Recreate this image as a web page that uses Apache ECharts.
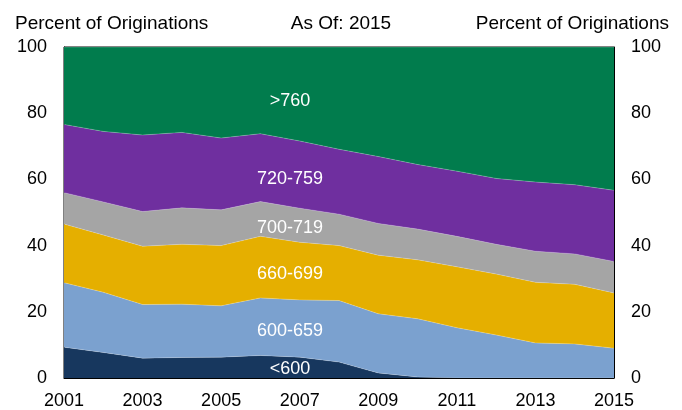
<!DOCTYPE html>
<html>
<head>
<meta charset="utf-8">
<script src="https://cdn.jsdelivr.net/npm/echarts@6/dist/echarts.min.js"></script>
<style>
  html, body { margin: 0; padding: 0; background: #fff; }
  #chart { width: 682px; height: 410px; }
</style>
</head>
<body>
<div id="chart"></div>
<script>
// Share of mortgage originations by credit score band, percent
const years = ['2001','2002','2003','2004','2005','2006','2007','2008','2009','2010','2011','2012','2013','2014','2015'];
const below600 = [9.3, 7.7, 6.0, 6.2, 6.3, 6.8, 6.3, 4.8, 1.5, 0.3, 0, 0, 0, 0, 0];
const s600_659 = [19.5, 18.2, 16.2, 16.1, 15.5, 17.4, 17.3, 18.6, 17.9, 17.6, 15.2, 13.0, 10.6, 10.3, 9.0];
const s660_699 = [17.7, 17.3, 17.6, 18.1, 18.2, 18.6, 17.4, 16.6, 17.7, 17.8, 18.4, 18.4, 18.3, 18.0, 16.7];
const s700_719 = [9.5, 10.0, 10.5, 11.0, 10.8, 10.5, 10.3, 9.5, 9.6, 9.3, 9.2, 9.0, 9.4, 9.2, 9.5];
const s720_759 = [20.6, 21.3, 23.1, 22.8, 21.7, 20.5, 20.3, 19.6, 20.2, 19.5, 19.7, 19.9, 20.9, 20.9, 21.5];
const above760 = [23.4, 25.5, 26.6, 25.8, 27.5, 26.2, 28.4, 30.9, 33.1, 35.5, 37.5, 39.7, 40.8, 41.6, 43.3];
const yTicks = [0, 20, 40, 60, 80, 100];

const bands = [
  { name: '<600', data: below600, color: '#17375E', labelY: 369 },
  { name: '600-659', data: s600_659, color: '#7BA1CF', labelY: 331 },
  { name: '660-699', data: s660_699, color: '#E5AF00', labelY: 274 },
  { name: '700-719', data: s700_719, color: '#A5A5A5', labelY: 228 },
  { name: '720-759', data: s720_759, color: '#6F2F9F', labelY: 179 },
  { name: '>760', data: above760, color: '#017C4D', labelY: 101 }
];

const font = 'Liberation Sans, Arial, sans-serif';
const chart = echarts.init(document.getElementById('chart'));

const yAxisBase = {
  type: 'value',
  min: yTicks[0],
  max: yTicks[yTicks.length - 1],
  interval: 20,
  splitLine: { show: false },
  axisLine: { show: true, lineStyle: { color: '#000', width: 1 } },
  axisTick: { show: true, inside: true, length: 5, lineStyle: { color: '#000' } },
  axisLabel: { color: '#000', fontSize: 18, fontFamily: font, margin: 17 }
};

const titleStyle = { fontSize: 19, fontWeight: 'normal', color: '#000', fontFamily: font };

chart.setOption({
  animation: false,
  grid: {
    left: 64, right: 68, top: 47, bottom: 31,
    show: true, borderColor: '#000', borderWidth: 1, backgroundColor: 'transparent'
  },
  title: [
    { text: 'Percent of Originations', left: 10, top: 9, textStyle: titleStyle },
    { text: 'As Of: 2015', left: 'center', top: 9, textStyle: titleStyle },
    { text: 'Percent of Originations', right: 8, top: 9, textStyle: titleStyle }
  ],
  xAxis: {
    type: 'category',
    data: years,
    boundaryGap: false,
    axisLine: { show: true, lineStyle: { color: '#000' } },
    axisTick: { show: true, inside: true, length: 6, interval: 1, lineStyle: { color: '#000' } },
    axisLabel: { interval: 1, color: '#000', fontSize: 18, fontFamily: font, margin: 14 }
  },
  yAxis: [
    Object.assign({}, yAxisBase, { position: 'left' }),
    Object.assign({}, yAxisBase, { position: 'right' })
  ],
  series: bands.map(b => ({
    name: b.name,
    type: 'line',
    stack: 'total',
    data: b.data,
    symbol: 'none',
    z: 2,
    lineStyle: { width: 0.6, color: 'rgba(255,255,255,0.35)' },
    areaStyle: { color: b.color, opacity: 1 },
    itemStyle: { color: b.color }
  })),
  graphic: bands.map(b => ({
    type: 'text',
    x: 290,
    y: b.labelY,
    z: 100,
    style: {
      text: b.name,
      fill: '#fff',
      font: '18px ' + font,
      textAlign: 'center',
      textVerticalAlign: 'middle'
    }
  }))
});
</script>
</body>
</html>
